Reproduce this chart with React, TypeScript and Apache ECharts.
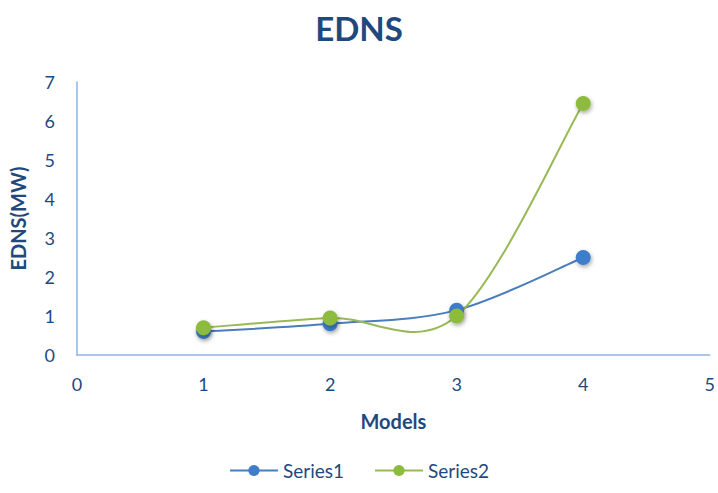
import React, { useEffect, useRef } from "react";
import * as echarts from "echarts";

const models = [1, 2, 3, 4];
const series1 = [0.6, 0.8, 1.15, 2.5];
const series2 = [0.7, 0.95, 1.0, 6.45];
const xTicks = [0, 1, 2, 3, 4, 5];
const yTicks = [0, 1, 2, 3, 4, 5, 6, 7];

const textColor = "#1F497D";
const axisColor = "#8EB4E3";
const font = "Lato, 'Open Sans', sans-serif";

export default function App() {
  const ref = useRef<HTMLDivElement>(null);
  useEffect(() => {
    if (!ref.current) return;
    const chart = echarts.init(ref.current, null, { renderer: "svg" });

    // Excel-style smoothed curve (Catmull-Rom / Bezier with 1/6 tangents), drawn through the axes' scales
    const curve = (vals: number[], color: string) => ({
      type: "custom",
      silent: true,
      z: 1,
      data: models.slice(0, -1).map((m, i) => [m, vals[i]]),
      renderItem: (params: any, api: any) => {
        const i = params.dataIndex;
        const n = models.length;
        const pt = (k: number) => {
          const c = Math.max(0, Math.min(n - 1, k));
          return api.coord([models[c], vals[c]]);
        };
        const p0 = pt(i - 1), p1 = pt(i), p2 = pt(i + 1), p3 = pt(i + 2);
        return {
          type: "bezierCurve",
          shape: {
            x1: p1[0], y1: p1[1],
            cpx1: p1[0] + (p2[0] - p0[0]) / 6, cpy1: p1[1] + (p2[1] - p0[1]) / 6,
            cpx2: p2[0] - (p3[0] - p1[0]) / 6, cpy2: p2[1] - (p3[1] - p1[1]) / 6,
            x2: p2[0], y2: p2[1],
          },
          style: { stroke: color, lineWidth: 2, fill: "none" },
        };
      },
    });

    const mk = (name: string, vals: number[], color: string, mcolor: string) => ({
      name,
      type: "line",
      z: 3,
      data: models.map((m, i) => [m, vals[i]]),
      symbol: "circle",
      symbolSize: 15,
      lineStyle: { color, width: 2, opacity: 0 },
      itemStyle: {
        color: mcolor,
        borderWidth: 0,
        shadowBlur: 4,
        shadowOffsetX: 1,
        shadowOffsetY: 2,
        shadowColor: "rgba(0,0,0,0.35)",
      },
    });

    chart.setOption({
      animation: false,
      textStyle: { fontFamily: font },
      title: {
        text: "EDNS",
        left: "center",
        top: 6,
        textStyle: { fontSize: 33, fontWeight: "bold", color: textColor, fontFamily: font },
      },
      legend: {
        bottom: 8,
        left: "center",
        itemWidth: 48,
        itemHeight: 14,
        itemGap: 30,
        textStyle: { fontSize: 19, color: textColor, fontFamily: font },
        data: [
          { name: "Series1", lineStyle: { color: "#4A7EBB", width: 2, opacity: 1 }, itemStyle: { shadowBlur: 0, shadowOffsetX: 0, shadowOffsetY: 0 } },
          { name: "Series2", lineStyle: { color: "#98B954", width: 2, opacity: 1 }, itemStyle: { shadowBlur: 0, shadowOffsetX: 0, shadowOffsetY: 0 } },
        ],
      },
      grid: { left: 71, right: 4, top: 82, bottom: 138, containLabel: false },
      xAxis: {
        type: "value",
        min: xTicks[0],
        max: xTicks[xTicks.length - 1],
        interval: 1,
        name: "Models",
        nameLocation: "middle",
        nameGap: 56,
        nameTextStyle: { fontSize: 20, fontWeight: "bold", color: textColor, fontFamily: font },
        axisLine: { lineStyle: { color: axisColor, width: 1.5 } },
        axisTick: { show: false },
        splitLine: { show: false },
        axisLabel: { fontSize: 18, color: textColor, margin: 20, fontFamily: font },
      },
      yAxis: {
        type: "value",
        min: yTicks[0],
        max: yTicks[yTicks.length - 1],
        interval: 1,
        name: "EDNS(MW)",
        nameLocation: "middle",
        nameGap: 49,
        nameTextStyle: { fontSize: 20, fontWeight: "bold", color: textColor, fontFamily: font },
        axisLine: { show: true, lineStyle: { color: axisColor, width: 1.5 } },
        axisTick: { show: false },
        splitLine: { show: false },
        axisLabel: { fontSize: 18, color: textColor, margin: 22, fontFamily: font },
      },
      series: [
        curve(series1, "#4A7EBB"),
        curve(series2, "#98B954"),
        mk("Series1", series1, "#4A7EBB", "#3D7DCC"),
        mk("Series2", series2, "#98B954", "#8DBB3C"),
      ],
    });
    return () => chart.dispose();
  }, []);
  return <div ref={ref} style={{ width: 718, height: 493, position: "absolute", left: 0, top: 0 }} />;
}
